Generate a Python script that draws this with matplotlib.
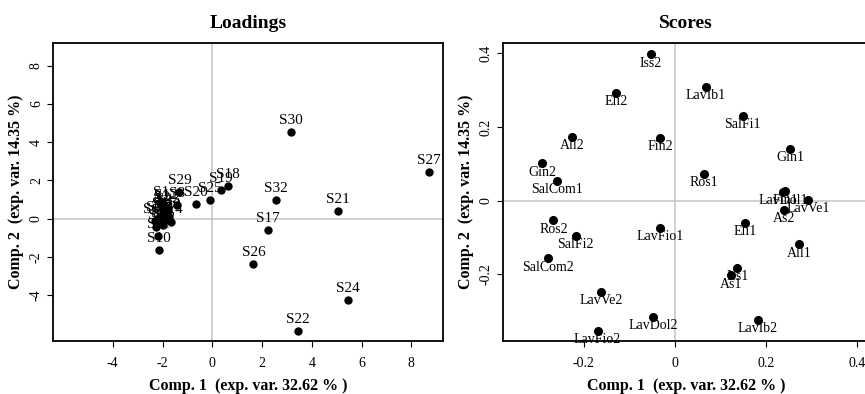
import matplotlib
matplotlib.use("Agg")
import matplotlib.pyplot as plt

plt.rcParams['font.family'] = ['Liberation Serif', 'DejaVu Serif']
plt.rcParams['axes.unicode_minus'] = False

# Loadings (variables S1..S32)
load_names = ["S1", "S2", "S3", "S4", "S5", "S6", "S7", "S8", "S9", "S10",
              "S11", "S12", "S13", "S14", "S15", "S16", "S17", "S18", "S19", "S20",
              "S21", "S22", "S23", "S24", "S25", "S26", "S27", "S28", "S29", "S30",
              "S31", "S32"]
load_x = [-2.05, -2.00, -1.95, -2.10, -2.00, -1.90, -2.15, -1.43, -2.25, -2.13,
          -2.17, -1.85, -2.30, -1.65, -2.00, -1.95, 2.25, 0.64, 0.36, -0.67,
          5.06, 3.45, -1.80, 5.46, -0.08, 1.65, 8.70, -1.75, -1.32, 3.15,
          -2.20, 2.57]
load_y = [0.75, 0.50, 0.30, 0.15, 0.05, -0.05, -0.20, 0.72, -0.45, -1.65,
          -0.90, 0.60, -0.10, -0.15, -0.35, 0.20, -0.59, 1.73, 1.50, 0.79,
          0.42, -5.86, 0.40, -4.24, 0.98, -2.36, 2.46, 0.10, 1.40, 4.54,
          0.00, 0.98]

# Scores (samples)
score_names = ["Iss2", "Eli2", "LavIb1", "SalFi1", "All2", "Fin2", "Gin1", "Gin2",
               "SalCom1", "Ros1", "Fin1", "LavDol1", "LavVe1", "As2", "Ros2",
               "LavFio1", "Eli1", "SalFi2", "All1", "SalCom2", "Iss1", "As1",
               "LavVe2", "LavDol2", "LavIb2", "LavFio2"]
score_x = [-0.053, -0.130, 0.068, 0.149, -0.225, -0.032, 0.253, -0.292,
           -0.259, 0.064, 0.242, 0.238, 0.293, 0.240, -0.267,
           -0.032, 0.155, -0.218, 0.273, -0.279, 0.137, 0.123,
           -0.162, -0.048, 0.182, -0.170]
score_y = [0.397, 0.292, 0.309, 0.231, 0.174, 0.171, 0.140, 0.101,
           0.053, 0.073, 0.025, 0.024, 0.002, -0.024, -0.053,
           -0.073, -0.060, -0.095, -0.118, -0.156, -0.183, -0.203,
           -0.248, -0.316, -0.323, -0.353]

load_ticks = [-4, -2, 0, 2, 4, 6, 8]
score_ticks = [-0.2, 0, 0.2, 0.4]
score_ticklabels = ["-0.2", "0", "0.2", "0.4"]

xlab = "Comp. 1  (exp. var. 32.62 % )"
ylab = "Comp. 2  (exp. var. 14.35 %)"

fig = plt.figure(figsize=(8.65, 3.94), dpi=100)
W, H = 865.0, 394.0
ax1 = fig.add_axes([53.3 / W, (H - 340.7) / H, (443.0 - 53.3) / W, 297.4 / H])
ax2 = fig.add_axes([503.3 / W, (H - 340.7) / H, (869.3 - 503.3) / W, 297.4 / H])


def style_axes(ax, title):
    for sp in ax.spines.values():
        sp.set_linewidth(1.3)
    ax.axhline(0, color="#c8c8c8", lw=1.2, zorder=0)
    ax.axvline(0, color="#c8c8c8", lw=1.2, zorder=0)
    ax.tick_params(direction="out", length=4.5, width=0.8, labelsize=10)
    ax.tick_params(axis="x", pad=7)
    ax.tick_params(axis="y", pad=3)
    for lab in ax.get_yticklabels():
        lab.set_rotation(90)
        lab.set_va("center")
    ax.set_title(title, fontsize=14, fontweight="bold", pad=11)
    ax.set_xlabel(xlab, fontsize=11.5, fontweight="bold", labelpad=6)
    ax.set_ylabel(ylab, fontsize=11.5, fontweight="bold", labelpad=4)


# Loadings panel
ax1.plot(load_x, load_y, "o", color="black", ms=5)
for n, x, y in zip(load_names, load_x, load_y):
    ax1.annotate(n, (x, y), xytext=(0, 5.8), textcoords="offset points",
                 ha="center", va="baseline", fontsize=11)
ax1.set_xlim(-6.39, 9.27)
ax1.set_ylim(-6.39, 9.18)
ax1.set_xticks(load_ticks)
ax1.set_yticks(load_ticks)
ax1.set_xticklabels([str(t) for t in load_ticks])
ax1.set_yticklabels([str(t) for t in load_ticks])
style_axes(ax1, "Loadings")

# Scores panel
ax2.plot(score_x, score_y, "o", color="black", ms=5.5)
for n, x, y in zip(score_names, score_x, score_y):
    ax2.annotate(n, (x, y), xytext=(0, -8.9), textcoords="offset points",
                 ha="center", va="baseline", fontsize=10)
ax2.set_xlim(-0.377, 0.427)
ax2.set_ylim(-0.380, 0.427)
ax2.set_xticks(score_ticks)
ax2.set_yticks(score_ticks)
ax2.set_xticklabels(score_ticklabels)
ax2.set_yticklabels(score_ticklabels)
style_axes(ax2, "Scores")

fig.savefig("out.png", dpi=100)
